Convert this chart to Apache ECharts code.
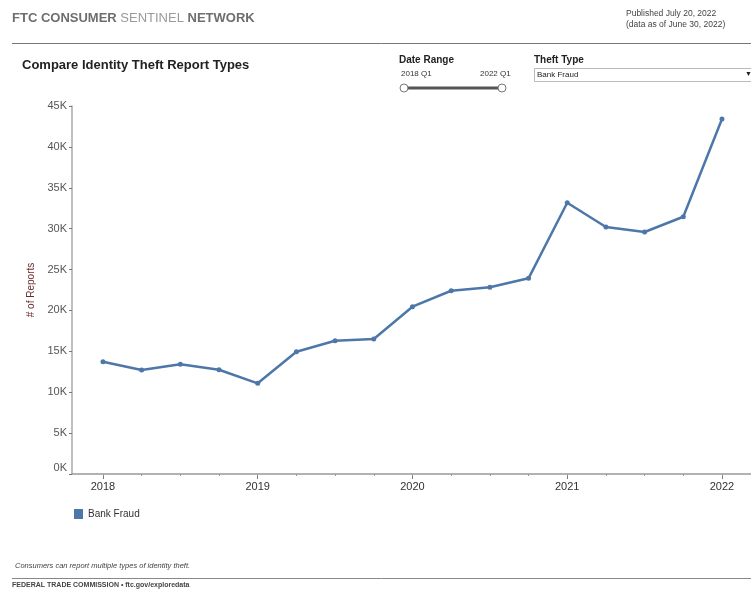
<!DOCTYPE html>
<html><head><meta charset="utf-8">
<script src="https://cdn.jsdelivr.net/npm/echarts@6/dist/echarts.min.js"></script>
<style>html,body{margin:0;padding:0;background:#fff}#c{width:751px;height:589px}</style>
</head><body><div id="c"></div>
<script>
// quarters, index 0 = 2018 Q1
const quarters = ['2018 Q1','2018 Q2','2018 Q3','2018 Q4','2019 Q1','2019 Q2','2019 Q3','2019 Q4','2020 Q1','2020 Q2','2020 Q3','2020 Q4','2021 Q1','2021 Q2','2021 Q3','2021 Q4','2022 Q1'];
const bankFraud = [13730,12720,13410,12750,11090,14950,16300,16510,20460,22410,22830,23930,33170,30200,29590,31460,43410];
const yearTicks = [0,4,8,12,16];
const yearLabels = ['2018','2019','2020','2021','2022'];
const yTicks = [0,5000,10000,15000,20000,25000,30000,35000,40000,45000];

const F = '"Liberation Sans", Arial, sans-serif';
const chart = echarts.init(document.getElementById('c'));
const quarterIdx = quarters.map((q,i)=>i);

chart.setOption({
  animation:false,
  textStyle:{fontFamily:F},
  grid:{left:72,right:0,top:106,bottom:115,containLabel:false},
  legend:{left:69,top:504,icon:'rect',itemWidth:9,itemHeight:10,itemGap:5,
    textStyle:{fontFamily:F,fontSize:10,color:'#333'},data:['Bank Fraud']},
  xAxis:[{
    type:'value',min:-0.8,max:16.75,
    axisLine:{onZero:false,lineStyle:{color:'#999',width:1.5}},
    axisTick:{customValues:yearTicks,length:5,lineStyle:{color:'#777'}},
    axisLabel:{customValues:yearTicks,formatter:v=>yearLabels[yearTicks.indexOf(v)],
      color:'#333',fontSize:11,margin:7,fontFamily:F},
    splitLine:{show:false}
  },{
    type:'value',min:-0.8,max:16.75,position:'bottom',
    axisLine:{show:false,onZero:false},
    axisTick:{customValues:quarterIdx,length:2,lineStyle:{color:'#999'}},
    axisLabel:{show:false},splitLine:{show:false}
  }],
  yAxis:{
    type:'value',min:0,max:45000,
    axisLine:{show:true,onZero:false,lineStyle:{color:'#aaa',width:1.5}},
    axisTick:{show:true,length:3,customValues:yTicks,lineStyle:{color:'#777'}},
    axisLabel:{customValues:yTicks,fontSize:11,color:'#555',margin:5,fontFamily:F,
      formatter:v=> v===0 ? '{z|0K}' : (v/1000)+'K',
      rich:{z:{fontSize:11,color:'#555',fontFamily:F,padding:[0,0,12,0]}}},
    splitLine:{show:false},
    name:'# of Reports',nameLocation:'middle',nameGap:33,
    nameTextStyle:{color:'#6b2b2b',fontSize:10,fontFamily:F}
  },
  series:[{
    name:'Bank Fraud',type:'line',xAxisIndex:0,
    data:bankFraud.map((v,i)=>[i,v]),
    color:'#4e77a9',
    lineStyle:{width:2.5,color:'#4e77a9'},
    symbol:'circle',symbolSize:5,itemStyle:{color:'#4e77a9'}
  }],
  graphic:[
    {type:'text',left:12,top:12,style:{rich:{
      b:{fontFamily:F,fontSize:13,fontWeight:'bold',fill:'#6e6e6e'},
      l:{fontFamily:F,fontSize:13,fill:'#9a9a9a'}},
      text:'{b|FTC CONSUMER }{l|SENTINEL }{b|NETWORK}'}},
    {type:'line',shape:{x1:12,y1:43.5,x2:751,y2:43.5},style:{stroke:'#777',lineWidth:1}},
    {type:'text',left:626,top:9,style:{text:'Published July 20, 2022',fontFamily:F,fontSize:8.5,fill:'#444'}},
    {type:'text',left:626,top:20,style:{text:'(data as of June 30, 2022)',fontFamily:F,fontSize:8.5,fill:'#444'}},
    {type:'text',left:22,top:59,style:{text:'Compare Identity Theft Report Types',fontFamily:F,fontSize:13,fontWeight:'bold',fill:'#222'}},
    {type:'text',left:399,top:55,style:{text:'Date Range',fontFamily:F,fontSize:10,fontWeight:'bold',fill:'#222'}},
    {type:'text',left:401,top:70,style:{text:'2018 Q1',fontFamily:F,fontSize:8,fill:'#333'}},
    {type:'text',left:480,top:70,style:{text:'2022 Q1',fontFamily:F,fontSize:8,fill:'#333'}},
    {type:'line',shape:{x1:404,y1:88,x2:502,y2:88},style:{stroke:'#555',lineWidth:3}},
    {type:'circle',shape:{cx:404,cy:88,r:4},style:{fill:'#fff',stroke:'#777',lineWidth:1}},
    {type:'circle',shape:{cx:502,cy:88,r:4},style:{fill:'#fff',stroke:'#777',lineWidth:1}},
    {type:'text',left:534,top:55,style:{text:'Theft Type',fontFamily:F,fontSize:10,fontWeight:'bold',fill:'#222'}},
    {type:'rect',shape:{x:534.5,y:68.5,width:220,height:13},style:{fill:'#fff',stroke:'#bbb',lineWidth:1}},
    {type:'text',left:537,top:71,style:{text:'Bank Fraud',fontFamily:F,fontSize:8,fill:'#222'}},
    {type:'text',left:745,top:71,style:{text:'▼',fontFamily:F,fontSize:7,fill:'#222'}},
    {type:'text',left:15,top:562,style:{text:'Consumers can report multiple types of identity theft.',fontFamily:F,fontSize:7.5,fontStyle:'italic',fill:'#444'}},
    {type:'line',shape:{x1:12,y1:578.5,x2:751,y2:578.5},style:{stroke:'#888',lineWidth:1}},
    {type:'text',left:12,top:582,style:{text:'FEDERAL TRADE COMMISSION • ftc.gov/exploredata',fontFamily:F,fontSize:7,fontWeight:'bold',fill:'#444'}}
  ]
});
</script></body></html>
